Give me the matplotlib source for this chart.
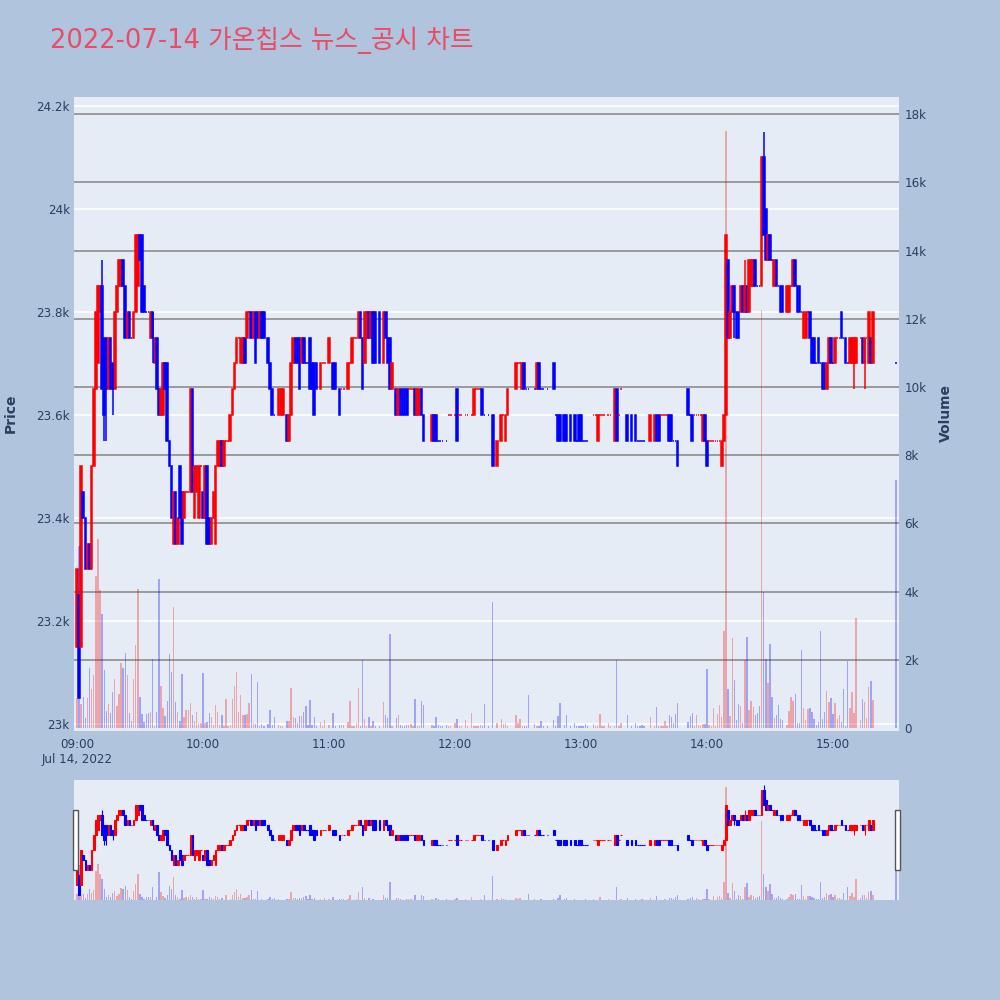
import matplotlib
matplotlib.use("Agg")
import matplotlib.pyplot as plt
import numpy as np
from matplotlib.patches import Rectangle
from matplotlib.transforms import blended_transform_factory

plt.rcParams["font.family"] = ["DejaVu Sans", "Noto Sans CJK KR"]

TITLE = "2022-07-14 가온칩스 뉴스_공시 차트"

# One row per 10 minutes starting 09:00; None = no trade in that minute.
opens = [
    23150, 23250, 23150, 23450, 23400, 23300, 23350, 23300, 23500, 23650,
    23700, 23800, 23850, 23750, 23750, 23650, 23750, 23700, 23650, 23800,
    23850, 23850, 23900, 23850, 23750, 23800, 23750, 23750, 23800, 23850,
    23950, 23950, 23850, 23800, 23800, 23750, 23800, 23700, 23750, 23650,
    23600, 23600, 23700, 23700, 23550, 23500, 23350, 23450, 23350, 23500,
    23450, 23400, 23450, 23450, 23450, 23650, 23400, 23450, 23400, 23500,
    23450, 23400, 23500, 23400, 23350, 23400, 23350, 23500, 23500, 23550,
    23500, 23550, 23550, 23550, 23600, 23650, 23700, 23750, 23700, 23700,
    23750, 23750, 23800, 23800, 23750, 23800, 23800, 23750, 23800, 23800,
    None, 23750, 23700, 23650, 23600, None, 23600, 23600, 23600, None,
    23600, 23550, 23600, 23700, 23750, 23750, 23750, 23700, 23750, 23700,
    23700, 23750, 23700, 23700, 23700, None, 23650, 23700, 23700, None,
    23700, None, 23700, 23700, None, 23650, 23650, 23650, None, 23650,
    23700, 23700, 23750, 23750, 23750, 23800, 23750, 23700, 23750, 23800,
    23750, 23800, 23800, None, 23800, None, 23700, 23800, 23750, 23750,
    23650, None, 23650, 23600, 23650, 23650, 23650, 23650, 23650, 23650,
    23650, 23650, 23600, 23600, 23650, 23600, None, None, None, 23550,
    23600, 23600, 23550, 23550, 23550, None, 23550, 23600, 23600, None,
    23600, 23650, 23600, 23600, None, 23600, 23600, None, 23600, 23600,
    23650, 23650, 23650, 23650, 23600, None, 23600, None, 23600, None,
    23500, None, 23550, 23600, 23550, 23600, None, None, None, 23650,
    23700, 23700, 23650, 23700, 23650, 23650, None, None, 23650, 23650,
    23700, 23650, 23650, None, 23650, None, None, 23700, 23600, 23600,
    23600, None, 23600, 23600, None, 23600, None, 23600, 23550, 23600,
    23600, 23550, 23550, 23550, None, None, 23600, 23600, 23550, 23600,
    23600, 23600, None, 23600, 23600, None, 23550, 23650, 23600, 23650,
    None, None, 23600, None, 23600, None, 23600, 23550, 23550, 23550,
    23550, None, None, 23550, None, 23550, 23600, 23600, 23600, 23600,
    23600, 23600, 23600, 23600, 23550, 23550, 23550, None, None, None,
    None, 23650, 23600, 23600, 23600, 23600, 23600, 23600, 23550, 23600,
    23550, 23550, 23550, 23550, 23550, 23550, 23550, 23500, 23550, 23600,
    23900, 23750, 23800, 23850, 23800, 23800, 23800, 23850, 23800, 23850,
    23800, 23850, 23850, 23900, 23850, 23850, 23850, 24100, 24000, 23900,
    23950, 23900, 23850, 23900, 23850, 23850, 23850, None, 23800, 23800,
    23850, 23850, 23900, 23850, 23850, 23800, 23750, 23750, 23800, 23800,
    23750, 23750, 23700, 23750, 23700, 23700, 23700, 23650, 23700, 23750,
    23700, 23700, 23750, 23750, 23800, 23750, 23750, 23700, 23700, 23700,
    23700, 23700, None, 23750, 23750, 23700, 23750, 23700, 23750, 23700,
    None, None, None, None, None, None, None, None, None, None,
    23700,
]
closes = [
    23300, 23050, 23500, 23400, 23300, 23350, 23300, 23500, 23650, 23800,
    23850, 23850, 23650, 23600, 23650, 23750, 23650, 23650, 23800, 23850,
    23900, 23900, 23850, 23750, 23800, 23750, 23750, 23800, 23950, 23950,
    23900, 23800, 23800, 23800, 23800, 23800, 23750, 23750, 23650, 23600,
    23650, 23700, 23650, 23550, 23500, 23400, 23450, 23350, 23400, 23400,
    23350, 23450, 23450, 23450, 23650, 23450, 23500, 23500, 23500, 23500,
    23400, 23500, 23350, 23350, 23400, 23450, 23500, 23550, 23550, 23500,
    23550, 23550, 23550, 23600, 23650, 23700, 23750, 23750, 23750, 23750,
    23700, 23800, 23800, 23750, 23800, 23700, 23750, 23800, 23750, 23750,
    None, 23700, 23650, 23600, 23600, None, 23650, 23650, 23650, None,
    23550, 23600, 23700, 23750, 23700, 23700, 23650, 23750, 23700, 23700,
    23700, 23650, 23650, 23600, 23650, None, 23700, 23700, 23700, None,
    23750, None, 23650, 23650, None, 23600, 23650, 23650, None, 23700,
    23700, 23750, 23750, 23750, 23800, 23750, 23650, 23800, 23800, 23750,
    23800, 23700, 23700, None, 23700, None, 23800, 23750, 23700, 23650,
    23700, None, 23600, 23650, 23600, 23600, 23600, 23600, 23650, 23650,
    23650, 23600, 23650, 23650, 23600, 23550, None, None, None, 23600,
    23550, 23550, 23550, 23550, 23550, None, 23550, 23600, 23600, None,
    23600, 23550, 23600, 23600, None, 23600, 23600, None, 23600, 23650,
    23650, 23650, 23650, 23600, 23600, None, 23600, None, 23500, None,
    23550, None, 23600, 23600, 23600, 23650, None, None, None, 23700,
    23700, 23700, 23700, 23650, 23650, 23650, None, None, 23650, 23700,
    23650, 23650, 23650, None, 23650, None, None, 23650, 23600, 23550,
    23550, None, 23550, 23550, None, 23550, None, 23550, 23550, 23550,
    23550, 23550, 23550, 23550, None, None, 23600, 23600, 23600, 23600,
    23600, 23600, None, 23600, 23600, None, 23650, 23550, 23600, 23650,
    None, None, 23550, None, 23550, None, 23550, 23550, 23550, 23550,
    23550, None, None, 23600, None, 23600, 23550, 23550, 23600, 23600,
    23600, 23600, 23550, 23550, 23550, 23550, 23500, None, None, None,
    None, 23600, 23600, 23550, 23600, 23600, 23600, 23600, 23600, 23550,
    23500, 23550, 23550, 23550, 23550, 23550, 23550, 23550, 23600, 23950,
    23750, 23800, 23850, 23800, 23750, 23750, 23850, 23800, 23850, 23800,
    23900, 23900, 23900, 23850, 23850, 23850, 24100, 23950, 23900, 23950,
    23900, 23900, 23900, 23850, 23850, 23800, 23800, None, 23850, 23850,
    23850, 23900, 23850, 23800, 23800, 23800, 23800, 23800, 23800, 23750,
    23700, 23700, 23700, 23700, 23700, 23650, 23650, 23700, 23750, 23700,
    23700, 23750, 23750, 23750, 23750, 23750, 23700, 23700, 23750, 23750,
    23750, 23750, None, 23750, 23700, 23750, 23750, 23800, 23700, 23800,
    None, None, None, None, None, None, None, None, None, None,
    23700,
]
volumes = [
    870, 5350, 700, 900, 300, 870, 1750, 1150, 1550, 4470,
    5550, 4050, 3330, 1700, 500, 700, 450, 1070, 1430, 650,
    1000, 1900, 1750, 2200, 1550, 450, 200, 1450, 2420, 4080,
    920, 400, 190, 400, 450, 470, 2020, 50, 480, 4370,
    1220, 580, 350, 800, 2180, 1630, 3550, 770, 480, 200,
    1580, 310, 530, 530, 730, 390, 200, 470, 140, 140,
    1600, 140, 190, 450, 310, 90, 680, 480, 100, 380,
    50, 840, 50, 100, 840, 1220, 1650, 470, 980, 380,
    380, 400, 730, 1590, 140, 120, 1340, 50, 120, 50,
    0, 120, 530, 100, 310, 0, 100, 60, 60, 0,
    200, 200, 1170, 310, 280, 140, 350, 350, 480, 650,
    100, 820, 100, 320, 50, 0, 180, 50, 240, 0,
    80, 0, 430, 50, 0, 100, 100, 90, 0, 180,
    800, 50, 50, 140, 1170, 50, 1980, 260, 50, 330,
    50, 200, 50, 0, 50, 0, 750, 380, 280, 2750,
    60, 0, 300, 370, 90, 50, 50, 90, 90, 120,
    50, 840, 50, 60, 800, 680, 0, 0, 0, 90,
    50, 330, 90, 50, 50, 0, 80, 50, 50, 0,
    140, 250, 50, 50, 0, 220, 50, 0, 430, 50,
    50, 50, 90, 50, 700, 0, 50, 0, 3700, 0,
    140, 0, 260, 120, 160, 50, 0, 0, 0, 380,
    140, 270, 60, 50, 50, 960, 0, 0, 110, 50,
    50, 200, 50, 0, 60, 0, 0, 220, 50, 350,
    720, 0, 80, 380, 0, 50, 0, 140, 50, 50,
    50, 50, 120, 50, 0, 0, 120, 50, 50, 410,
    50, 50, 0, 140, 50, 0, 50, 2000, 50, 160,
    0, 0, 380, 0, 70, 0, 140, 50, 50, 90,
    50, 0, 0, 330, 0, 50, 630, 50, 50, 50,
    200, 50, 380, 330, 140, 400, 720, 0, 0, 0,
    0, 180, 360, 430, 50, 380, 90, 50, 110, 110,
    1730, 90, 50, 580, 50, 400, 660, 330, 2830, 17500,
    1140, 360, 2640, 1410, 230, 700, 650, 140, 2000, 2670,
    530, 800, 630, 380, 430, 650, 12250, 3990, 2030, 1330,
    2460, 920, 280, 380, 680, 250, 230, 0, 100, 500,
    920, 800, 990, 140, 140, 2300, 580, 230, 550, 580,
    480, 270, 90, 190, 2830, 270, 460, 1090, 770, 890,
    400, 730, 270, 380, 190, 1150, 60, 1970, 580, 1050,
    430, 3220, 0, 240, 850, 750, 280, 1200, 1380, 820,
    0, 0, 0, 0, 0, 0, 0, 0, 0, 0,
    7270,
]

# shadows that reach past the candle body
wick_minutes = [12, 13, 14, 17, 36, 313, 318, 327, 370, 375]
wick_lows = [23650, 23550, 23550, 23600, 23700, 23750, 23800, 23950, 23650, 23650]
wick_highs = [23900, 23750, 23750, 23700, 23800, 23850, 23900, 24150, 23750, 23750]

time_ticks = [0, 60, 120, 180, 240, 300, 360]
time_labels = ["09:00\nJul 14, 2022", "10:00", "11:00", "12:00", "13:00", "14:00", "15:00"]
price_ticks = [23000, 23200, 23400, 23600, 23800, 24000, 24200]
price_labels = ["23k", "23.2k", "23.4k", "23.6k", "23.8k", "24k", "24.2k"]
volume_ticks = [0, 2000, 4000, 6000, 8000, 10000, 12000, 14000, 16000, 18000]
volume_labels = ["0", "2k", "4k", "6k", "8k", "10k", "12k", "14k", "16k", "18k"]

UP = "#ff0000"
DOWN = "#0000ff"
BG = "#b0c4de"
PLOT_BG = "#e5ecf6"
FONT = "#2a3f5f"
VOL_GRID = "#9a9a9a"
TITLE_COLOR = "#eb4b64"

assert len(opens) == len(closes) == len(volumes)

minute = np.arange(len(opens))
traded = np.array([v is not None for v in opens])
x = minute[traded]
o = np.array([v for v in opens if v is not None], dtype=float)
c = np.array([v for v in closes if v is not None], dtype=float)
vol = np.array(volumes, dtype=float)[traded]


def candle_direction(o, c):
    """Up/down per candle; flat candles compare against the previous close."""
    ups = []
    prev_close, prev_up = None, True
    for op, cl in zip(o, c):
        if cl > op:
            up = True
        elif cl < op:
            up = False
        elif prev_close is not None and cl != prev_close:
            up = cl > prev_close
        else:
            up = prev_up
        ups.append(up)
        prev_close, prev_up = cl, up
    return np.array(ups)


up = candle_direction(o, c)
colors = np.where(up, UP, DOWN)
wick_colors = [colors[np.where(x == m)[0][0]] for m in wick_minutes]


def draw_candles(ax, body_width, lw):
    ax.bar(x, np.abs(c - o), bottom=np.minimum(o, c), width=body_width,
           color=colors, edgecolor=colors, linewidth=lw, zorder=3)
    ax.vlines(wick_minutes, wick_lows, wick_highs, colors=wick_colors,
              linewidth=lw, zorder=3)


def clean(ax):
    for spine in ax.spines.values():
        spine.set_visible(False)


fig = plt.figure(figsize=(10, 10), dpi=100, facecolor=BG)

# main chart
ax = fig.add_axes([0.074, 0.269, 0.825, 0.634], facecolor=PLOT_BG)
ax_vol = ax.twinx()
ax.set_xlim(-1.4, 391.4)
ax.set_ylim(22986, 24217)
ax_vol.set_ylim(-88, 18504)

ax.set_yticks(price_ticks, price_labels)
ax.set_xticks(time_ticks, time_labels)
ax.tick_params(axis="y", length=0, pad=3, labelsize=8.6, labelcolor=FONT)
ax.tick_params(axis="x", length=0, pad=5, labelsize=8.6, labelcolor=FONT)
ax.grid(axis="y", color="white", linewidth=1.1)
ax.set_axisbelow(True)

ax_vol.set_yticks(volume_ticks, volume_labels)
ax_vol.tick_params(axis="y", length=0, pad=4, labelsize=8.6, labelcolor=FONT)

# volume grid lines sit under the candles
vol_grid = blended_transform_factory(ax.transAxes, ax_vol.transData)
for v in volume_ticks[1:]:
    ax.plot([0, 1], [v, v], transform=vol_grid, color=VOL_GRID, linewidth=1.4, zorder=1)

draw_candles(ax, 0.8, 1.1)
ax_vol.bar(x, vol, width=0.65, color=colors, alpha=0.3, linewidth=0, zorder=2)
ax.set_xlim(-1.4, 391.4)
ax.set_ylim(22986, 24217)
clean(ax)
clean(ax_vol)

fig.text(0.011, 0.587, "Price", rotation=90, ha="center", va="center",
         fontsize=10, fontweight="bold", color=FONT)
fig.text(0.946, 0.587, "Volume", rotation=90, ha="center", va="center",
         fontsize=10, fontweight="bold", color=FONT)
fig.text(0.05, 0.96, TITLE, ha="left", va="center", fontsize=18.5, color=TITLE_COLOR)

# range slider
sl = fig.add_axes([0.074, 0.1, 0.825, 0.12], facecolor=PLOT_BG)
sl_vol = sl.twinx()
draw_candles(sl, 0.8, 0.8)
sl_vol.bar(x, vol, width=0.65, color=colors, alpha=0.3, linewidth=0, zorder=2)
sl.set_xlim(-1.4, 391.4)
sl.set_ylim(22995, 24205)
sl_vol.set_ylim(0, 18600)
for a in (sl, sl_vol):
    a.set_xticks([])
    a.set_yticks([])
    clean(a)

for left in (0.073, 0.895):
    fig.add_artist(Rectangle((left, 0.130), 0.005, 0.060, transform=fig.transFigure,
                             facecolor="white", edgecolor="#555555", linewidth=1.0))

fig.savefig("out.png", dpi=100, facecolor=BG)
